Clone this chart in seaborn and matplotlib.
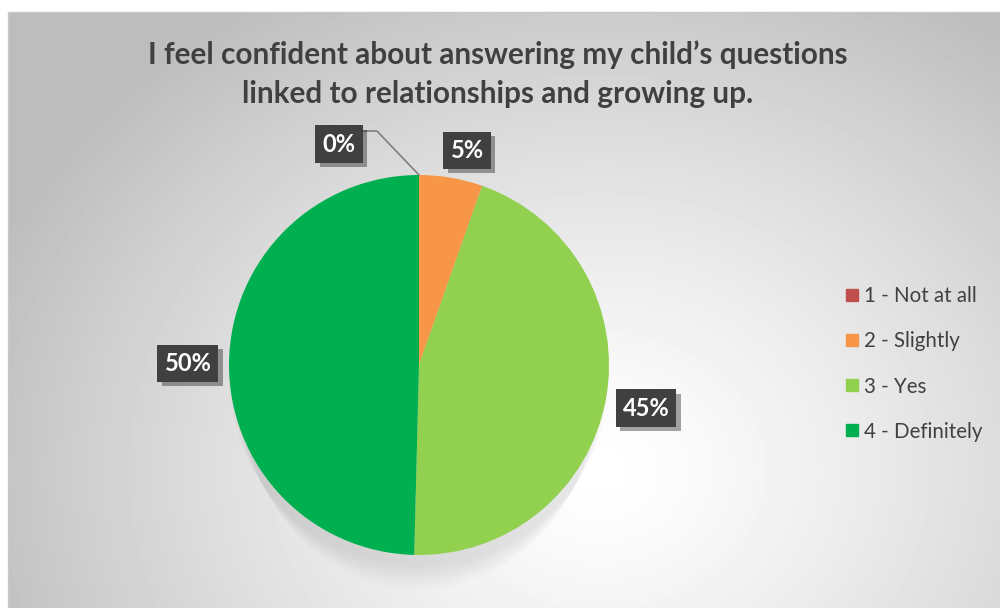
import numpy as np
import matplotlib
matplotlib.use("Agg")
import matplotlib.pyplot as plt
import matplotlib.patheffects as pe
from matplotlib.lines import Line2D
from matplotlib.patches import Rectangle, Ellipse
import seaborn as sns

# ---- data ----
categories = ["1 - Not at all", "2 - Slightly", "3 - Yes", "4 - Definitely"]
values = [0.0, 5.4, 45.0, 49.6]
value_labels = ["0%", "5%", "45%", "50%"]
colors_hex = ["#C0504D", "#F79646", "#92D050", "#00B050"]
title = "I feel confident about answering my child\u2019s questions\nlinked to relationships and growing up."

# ---- style ----
sns.set_theme(style="white")
plt.rcParams['font.family'] = ['Lato', 'DejaVu Sans']
palette = sns.color_palette(colors_hex)
TXT = "#404040"

W, H = 1000, 608
fig = plt.figure(figsize=(W / 100, H / 100), dpi=100)
fig.patch.set_facecolor("white")

# ---- chart-area background: radial grey gradient ----
x0, ytop = 8, 12
bw, bh = W - x0, H - ytop
bg = fig.add_axes([x0 / W, 0, bw / W, bh / H])
yy, xx = np.mgrid[0:bh, 0:bw]
cx, cy = 600 - x0, 470 - ytop
t = np.sqrt(((xx - cx) / 620.0) ** 2 + ((yy - cy) / 520.0) ** 2)
val = 1.0 - 0.24 * np.clip(t, 0, 1.2) ** 1.3
val = np.clip(val, 0.74, 1.0)
bg.imshow(val, cmap="gray", vmin=0, vmax=1, aspect="auto", interpolation="bilinear")
bg.set_axis_off()
fig.add_artist(Rectangle((x0 / W, -0.01), bw / W + 0.01, bh / H + 0.01, transform=fig.transFigure,
                         fill=False, edgecolor="#c8c8c8", lw=1))

# ---- pie ----
R = 190.0
pcx, pcy = 419.0, 365.0
ax = fig.add_axes([0, 0, 1, 1])
ax.patch.set_alpha(0)
wedges, _ = ax.pie(values, colors=palette, startangle=90, counterclock=False,
                   radius=1, wedgeprops=dict(linewidth=0, zorder=2))
ax.set_aspect("auto")
ax.set_xlim(-pcx / R, (W - pcx) / R)
ax.set_ylim(-(H - pcy) / R, pcy / R)
ax.set_axis_off()

# soft shadow below pie
for i in range(8):
    e = Ellipse((0, -0.06 - 0.012 * i), 2.0 - 0.02 * i, 2.0 + 0.01 * i, color="black",
                alpha=0.012, zorder=1, lw=0)
    ax.add_patch(e)

# ---- data labels ----
label_dist = [1.237, 1.158, 1.216, 1.216]
label_shift = [-19.9, 2.9, 0.3, -0.3]   # degrees, shift from wedge mid-angle
for w, lab, d, s in zip(wedges, value_labels, label_dist, label_shift):
    ang = np.deg2rad((w.theta1 + w.theta2) / 2 - s)
    lx, ly = d * np.cos(ang), d * np.sin(ang)
    txt = ax.text(lx, ly, lab, ha="center", va="center", color="white", fontsize=17,
                  fontweight="bold", zorder=5,
                  bbox=dict(boxstyle="square,pad=0.3", facecolor="#404040", edgecolor="none"))
    txt.get_bbox_patch().set_path_effects([
        pe.SimplePatchShadow(offset=(3, -3), shadow_rgbFace="black", alpha=0.35),
        pe.Normal()])
    if lab == "0%":
        ex = np.cos(np.deg2rad(w.theta1))
        ey = np.sin(np.deg2rad(w.theta1))
        bx = lx + 25 / R
        by = ly + 13 / R
        ax.plot([bx - 2 / R, bx + 13 / R, ex], [by, by, ey], color="#7f7f7f", lw=1.2, zorder=4)

# ---- legend ----
handles = [Line2D([0], [0], marker="s", linestyle="none", markersize=8.5,
                  markerfacecolor=c, markeredgecolor=c) for c in palette]
leg = fig.legend(handles, categories, loc="center left",
                 bbox_to_anchor=(833 / W, 1 - 364 / H), frameon=False,
                 fontsize=14.8, labelcolor=TXT, handletextpad=0.1,
                 labelspacing=1.22, handlelength=1.0, borderaxespad=0)

# ---- title ----
tt = fig.text(497.5 / W, 1 - 74 / H, title, ha="center", va="center", color=TXT,
              fontsize=18, fontweight="bold", linespacing=1.45)
fig.canvas.draw()
r = fig.canvas.get_renderer()
line1 = fig.text(0, 0, title.split("\n")[0], fontsize=18, fontweight="bold")
wpx = line1.get_window_extent(r).width
line1.remove()
tt.set_fontsize(18 * 701.0 / wpx)

fig.savefig("out.png", dpi=100, facecolor="white")
